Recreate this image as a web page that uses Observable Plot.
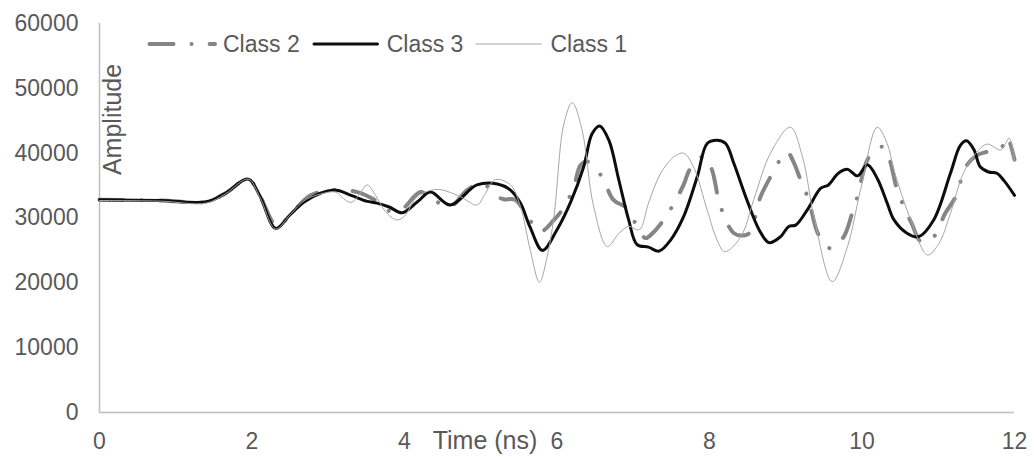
<!DOCTYPE html>
<html>
<head>
<meta charset="utf-8">
<script src="https://cdn.jsdelivr.net/npm/d3@7"></script>
<script src="https://cdn.jsdelivr.net/npm/@observablehq/plot@0.6"></script>
<style>
  html, body { margin: 0; padding: 0; background: #ffffff; }
  #wrap { position: relative; width: 1034px; height: 457px; font-family: "Liberation Sans", Arial, sans-serif; color: #595959; }
  #legend { position: absolute; left: 147px; top: 31px; height: 26px; display: flex; align-items: center; font-size: 23px; white-space: nowrap; }
  #legend svg { display: block; }
</style>
</head>
<body>
<div id="wrap">
  <div id="chart"></div>
  <div id="legend"></div>
</div>
<script>
// ---- axis ticks & titles ----
const xTicks = [0, 2, 4, 6, 8, 10, 12];
const yTicks = [0, 10000, 20000, 30000, 40000, 50000, 60000];
const xTitle = "Time (ns)";
const yTitle = "Amplitude";
const legendOrder = ["Class 2", "Class 3", "Class 1"];

// ---- Class 2 (dash-dot, medium gray) ----
const class2Time = [0,0.8,1.4,1.65,1.95,2.1,2.33,2.5,2.77,3.07,3.38,3.62,3.77,3.95,4.21,4.38,4.6,4.82,5.02,5.19,5.3,5.45,5.61,5.78,5.96,6.11,6.22,6.31,6.4,6.59,6.74,6.92,7.05,7.16,7.23,7.38,7.51,7.66,7.75,7.93,8.03,8.12,8.22,8.32,8.42,8.52,8.67,8.8,8.95,9.02,9.1,9.19,9.3,9.43,9.59,9.76,9.87,9.94,10.09,10.26,10.35,10.45,10.54,10.65,10.78,10.94,11.09,11.23,11.36,11.51,11.64,11.82,11.9,12.0];
const class2Amp = [32800,32700,32500,33800,36000,33500,28700,30500,33500,34300,34000,32700,31200,31200,34000,32800,31750,34300,35400,33500,32900,32800,30300,27900,29700,32000,34800,38150,38700,36350,32800,31500,28700,26900,27400,29400,31750,35100,37650,39500,37500,32800,29500,27650,27300,27650,33300,36350,39400,40200,38700,36000,32800,27400,25300,27100,30700,33300,39400,41000,39400,34800,32000,29200,26300,27100,30700,33300,37900,39700,40200,40700,42500,39000];

// ---- Class 3 (solid, black) ----
const class3Time = [0,0.8,1.4,1.65,1.95,2.1,2.31,2.5,2.7,3.07,3.3,3.5,3.64,3.8,3.97,4.17,4.34,4.6,4.95,5.22,5.39,5.52,5.65,5.81,6.0,6.18,6.35,6.46,6.56,6.68,6.81,6.94,7.05,7.2,7.34,7.49,7.66,7.84,7.97,8.1,8.21,8.32,8.49,8.65,8.78,8.93,9.04,9.13,9.28,9.46,9.56,9.69,9.81,9.94,10.07,10.2,10.33,10.42,10.59,10.74,10.94,11.16,11.29,11.37,11.47,11.55,11.66,11.77,11.86,12.0];
const class3Amp = [32800,32700,32500,33800,36000,33500,28400,30500,32600,34300,33500,32600,32300,31700,30800,32500,34000,32000,35100,35250,34300,32300,28500,25000,28200,32500,37900,43000,44200,42000,35900,29700,25900,25500,24900,26600,30200,36400,41500,42000,41500,38400,32800,28200,26200,27100,28700,28900,31200,34600,35100,36900,37500,36500,38200,36100,32300,29700,27650,27100,29700,36900,41200,41900,40500,37900,37100,36900,35800,33500];

// ---- Class 1 (thin, light gray) ----
const class1Time = [0,0.8,1.4,1.65,1.95,2.1,2.31,2.5,2.7,2.9,3.1,3.2,3.3,3.4,3.51,3.62,3.75,3.9,4.0,4.17,4.43,4.73,4.95,5.05,5.19,5.39,5.52,5.65,5.77,5.87,5.96,6.09,6.2,6.33,6.48,6.66,6.81,6.94,7.08,7.2,7.36,7.53,7.66,7.79,7.97,8.1,8.2,8.41,8.58,8.8,9.06,9.22,9.37,9.61,9.81,9.98,10.2,10.33,10.42,10.64,10.86,11.01,11.16,11.33,11.51,11.64,11.82,11.93,12.0];
const class1Amp = [32700,32600,32300,33700,36000,33300,28300,30500,32800,33700,34000,33000,32400,33500,35100,33500,31000,29700,30300,33300,34400,33300,32000,33600,35900,35100,31800,25000,20100,24000,30200,44500,47800,43500,31800,25600,27600,28700,28200,32300,36900,39400,40000,37900,31200,26600,24800,27100,32800,40000,44000,39400,30200,20200,25600,34300,44000,41500,37400,29700,24300,26100,30700,36900,40200,41400,40500,42300,38700];

// ---- styles (kept apart from data) ----
const seriesStyle = {
  "Class 2": {stroke: "#858585", width: 4, dash: "24,18,0.1,18", cap: "round"},
  "Class 3": {stroke: "#0d0d0d", width: 3, dash: null, cap: "round"},
  "Class 1": {stroke: "#a6a6a6", width: 1, dash: null, cap: "round"}
};
const seriesData = {
  "Class 2": class2Time.map((t, i) => ({t, v: class2Amp[i]})),
  "Class 3": class3Time.map((t, i) => ({t, v: class3Amp[i]})),
  "Class 1": class1Time.map((t, i) => ({t, v: class1Amp[i]}))
};
const drawOrder = ["Class 2", "Class 3", "Class 1"];

const axisColor = "#bfbfbf";

const chart = Plot.plot({
  width: 1034,
  height: 457,
  marginLeft: 99,
  marginRight: 20,
  marginTop: 23,
  marginBottom: 45,
  style: {fontFamily: "'Liberation Sans', Arial, sans-serif", fontSize: "23px", color: "#595959", background: "#ffffff", overflow: "visible"},
  x: {domain: [0, 12]},
  y: {domain: [0, 60000]},
  marks: [
    Plot.axisX({ticks: xTicks, tickSize: 0, tickPadding: 20, label: null, tickFormat: d => String(d)}),
    Plot.axisY({ticks: yTicks, tickSize: 0, tickPadding: 21, label: null, tickFormat: d => String(d)}),
    Plot.ruleX([0], {stroke: axisColor, strokeWidth: 1.5}),
    Plot.ruleY([0], {stroke: axisColor, strokeWidth: 1.5}),
    ...drawOrder.map(name => Plot.line(seriesData[name], {
      x: "t", y: "v",
      curve: "catmull-rom",
      stroke: seriesStyle[name].stroke,
      strokeWidth: seriesStyle[name].width,
      strokeDasharray: seriesStyle[name].dash,
      strokeLinecap: seriesStyle[name].cap,
      strokeLinejoin: "round"
    })),
    Plot.text([yTitle], {
      frameAnchor: "top-left", text: d => d, rotate: -90,
      textAnchor: "middle", lineAnchor: "middle",
      dx: 13, dy: 96, fontSize: 25, fill: "#595959"
    }),
    Plot.text([xTitle], {
      frameAnchor: "bottom", text: d => d,
      textAnchor: "middle", lineAnchor: "top",
      dx: -72, dy: 19, fontSize: 25, fill: "#595959"
    })
  ]
});
document.getElementById("chart").appendChild(chart);

// ---- legend (HTML, inside the plot area at top) ----
const legend = document.getElementById("legend");
const sampleWidths = {"Class 2": 70, "Class 3": 67, "Class 1": 67};
legendOrder.forEach((name, i) => {
  const s = seriesStyle[name];
  const w = sampleWidths[name];
  const ns = "http://www.w3.org/2000/svg";
  const svg = document.createElementNS(ns, "svg");
  svg.setAttribute("width", w);
  svg.setAttribute("height", 10);
  svg.style.marginLeft = i === 0 ? "0px" : "12px";
  const ln = document.createElementNS(ns, "line");
  ln.setAttribute("x1", s.width / 2 + 0.5);
  ln.setAttribute("x2", w - s.width / 2);
  ln.setAttribute("y1", 5);
  ln.setAttribute("y2", 5);
  ln.setAttribute("stroke", s.stroke);
  ln.setAttribute("stroke-width", s.width);
  ln.setAttribute("stroke-linecap", s.cap);
  if (s.dash) ln.setAttribute("stroke-dasharray", s.dash);
  svg.appendChild(ln);
  legend.appendChild(svg);
  const span = document.createElement("span");
  span.textContent = name;
  span.style.marginLeft = i === 0 ? "6px" : "8px";
  legend.appendChild(span);
});
</script>
</body>
</html>
